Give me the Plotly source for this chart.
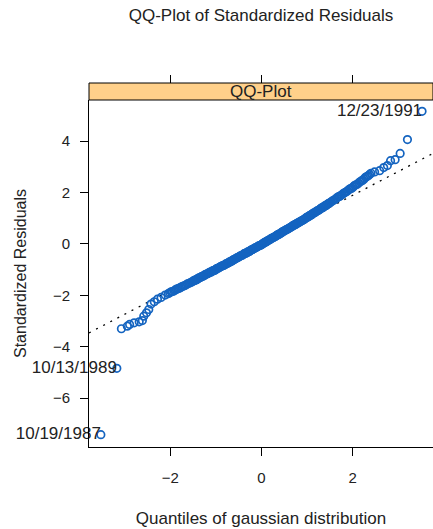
import plotly.graph_objects as go

# ---- data (sorted residuals vs gaussian quantiles) ----
quantiles = [
    -3.52, -3.17, -3.07, -2.94, -2.89, -2.79, -2.68, -2.61, -2.58, -2.52, -2.47, -2.42, -2.35, -2.28, -2.20, -2.11,
    -2.04, -1.98, -1.92, -1.86, -1.80, -1.74, -1.68, -1.62, -1.56, -1.50,
    -1.46, -1.42, -1.38, -1.34, -1.30, -1.26, -1.22, -1.18, -1.14, -1.10, -1.06, -1.02, -0.98, -0.94, -0.90,
    -0.86, -0.82, -0.78, -0.74, -0.70, -0.66, -0.62, -0.58, -0.54, -0.50, -0.46, -0.42, -0.38, -0.34, -0.30,
    -0.26, -0.22, -0.18, -0.14, -0.10, -0.06, -0.02,
    0.02, 0.06, 0.10, 0.14, 0.18, 0.22, 0.26, 0.30, 0.34, 0.38, 0.42, 0.46, 0.50, 0.54, 0.58, 0.62, 0.66,
    0.70, 0.74, 0.78, 0.82, 0.86, 0.90,
    0.94, 0.98, 1.02, 1.06, 1.10, 1.14, 1.18, 1.22, 1.26, 1.30, 1.34, 1.38, 1.42, 1.46, 1.50,
    1.56, 1.62, 1.68, 1.74, 1.80, 1.86, 1.92, 1.98, 2.04, 2.10, 2.16, 2.22, 2.28, 2.34, 2.40,
    2.48, 2.59, 2.68, 2.76, 2.83, 2.93, 3.04, 3.20, 3.52,
    # in-between points of the dense band
    -2.01, -1.95, -1.89, -1.83, -1.77, -1.71, -1.65, -1.59, -1.53,
    -1.48, -1.44, -1.40, -1.36, -1.32, -1.28, -1.24, -1.20, -1.16, -1.12, -1.08, -1.04, -1.00, -0.96, -0.92,
    -0.88, -0.84, -0.80, -0.76, -0.72, -0.68, -0.64, -0.60, -0.56, -0.52, -0.48, -0.44, -0.40, -0.36, -0.32,
    -0.28, -0.24, -0.20, -0.16, -0.12, -0.08, -0.04,
    0.00, 0.04, 0.08, 0.12, 0.16, 0.20, 0.24, 0.28, 0.32, 0.36, 0.40, 0.44, 0.48, 0.52, 0.56, 0.60, 0.64,
    0.68, 0.72, 0.76, 0.80, 0.84, 0.88,
    0.92, 0.96, 1.00, 1.04, 1.08, 1.12, 1.16, 1.20, 1.24, 1.28, 1.32, 1.36, 1.40, 1.44, 1.48,
    1.53, 1.59, 1.65, 1.71, 1.77, 1.83, 1.89, 1.95, 2.01, 2.07, 2.13, 2.19, 2.25, 2.31, 2.37,
]
residuals = [
    -7.42, -4.84, -3.30, -3.20, -3.13, -3.07, -3.03, -2.98, -2.81, -2.68, -2.55, -2.34, -2.25, -2.15, -2.08, -1.99,
    -1.93, -1.86, -1.83, -1.76, -1.72, -1.66, -1.62, -1.55, -1.51, -1.45,
    -1.41, -1.39, -1.33, -1.31, -1.26, -1.24, -1.18, -1.16, -1.11, -1.09, -1.04, -1.02, -0.96, -0.94, -0.89,
    -0.85, -0.83, -0.77, -0.75, -0.70, -0.67, -0.62, -0.59, -0.54, -0.51, -0.46, -0.44, -0.38, -0.36, -0.31,
    -0.28, -0.23, -0.20, -0.15, -0.12, -0.07, -0.05,
    0.00, 0.05, 0.08, 0.13, 0.16, 0.22, 0.25, 0.29, 0.34, 0.37, 0.42, 0.47, 0.50, 0.55, 0.58, 0.63, 0.67,
    0.72, 0.75, 0.80, 0.83, 0.88, 0.92,
    0.96, 1.02, 1.05, 1.11, 1.14, 1.20, 1.23, 1.29, 1.32, 1.38, 1.41, 1.47, 1.50, 1.56, 1.60,
    1.68, 1.74, 1.83, 1.88, 1.97, 2.03, 2.12, 2.17, 2.27, 2.32, 2.42, 2.48, 2.59, 2.65, 2.75,
    2.80, 2.85, 2.97, 3.05, 3.24, 3.28, 3.52, 4.06, 5.16,
    # in-between points of the dense band
    -1.90, -1.85, -1.79, -1.74, -1.69, -1.64, -1.59, -1.53, -1.48,
    -1.43, -1.40, -1.35, -1.32, -1.28, -1.25, -1.20, -1.17, -1.13, -1.10, -1.06, -1.03, -0.99, -0.95, -0.91,
    -0.87, -0.84, -0.81, -0.76, -0.73, -0.69, -0.65, -0.61, -0.57, -0.53, -0.49, -0.45, -0.41, -0.37, -0.34,
    -0.30, -0.26, -0.22, -0.18, -0.14, -0.10, -0.06,
    -0.03, 0.02, 0.07, 0.10, 0.15, 0.19, 0.23, 0.27, 0.31, 0.36, 0.40, 0.44, 0.49, 0.53, 0.57, 0.61, 0.65,
    0.70, 0.74, 0.78, 0.82, 0.86, 0.90,
    0.94, 0.99, 1.04, 1.08, 1.12, 1.17, 1.21, 1.26, 1.30, 1.35, 1.40, 1.44, 1.49, 1.53, 1.58,
    1.64, 1.71, 1.79, 1.85, 1.92, 2.00, 2.07, 2.15, 2.22, 2.30, 2.37, 2.45, 2.53, 2.62, 2.70,
]
outlier_labels = ["10/19/1987", "10/13/1989", "12/23/1991"]
outlier_x = [-3.52, -3.17, 3.52]
outlier_y = [-7.42, -4.84, 5.16]
ref_intercept = 0.04
ref_slope = 0.926

x_range = [-3.78, 3.76]
y_range = [-7.9, 5.6]
x_ticks = [-2, 0, 2]
y_ticks = [-6, -4, -2, 0, 2, 4]

FONT = "Liberation Sans, Arial, sans-serif"
BLUE = "#1464c0"
TXT = "#222222"

pairs = sorted(zip(quantiles, residuals))
qx = [p[0] for p in pairs]
qy = [p[1] for p in pairs]

fig = go.Figure()

fig.add_trace(go.Scatter(
    x=[x_range[0], x_range[1]],
    y=[ref_intercept + ref_slope * x_range[0], ref_intercept + ref_slope * x_range[1]],
    mode="lines",
    line=dict(color="black", width=1.3, dash="2px,6px"),
    hoverinfo="skip", showlegend=False,
))

fig.add_trace(go.Scatter(
    x=qx, y=qy, mode="markers",
    marker=dict(symbol="circle-open", size=7.5, color=BLUE, line=dict(width=1.7, color=BLUE)),
    showlegend=False,
))

fig.add_trace(go.Scatter(
    x=outlier_x, y=outlier_y, mode="text", text=outlier_labels,
    textposition="middle left",
    textfont=dict(family=FONT, size=17, color=TXT),
    cliponaxis=False, showlegend=False, hoverinfo="skip",
))

top_dom = (447 - 100) / (447 - 83)

fig.update_layout(
    width=433, height=529,
    margin=dict(l=89, r=0, t=83, b=82, autoexpand=False),
    paper_bgcolor="white", plot_bgcolor="white",
    font=dict(family=FONT, size=14, color=TXT),
    title=dict(text="QQ-Plot of Standardized Residuals", x=(89 + 433) / 2 / 433, xanchor="center",
               y=1 - 15 / 529, yanchor="middle", font=dict(size=17)),
    xaxis=dict(range=x_range, tickvals=x_ticks, ticks="outside", ticklen=8, tickcolor="black",
               showline=True, linecolor="black", linewidth=1, showgrid=False, zeroline=False,
               title=dict(text="Quantiles of gaussian distribution", standoff=27, font=dict(size=17)),
               ticklabelstandoff=9, anchor="y", automargin=False, tickfont=dict(size=15)),
    xaxis2=dict(range=x_range, tickvals=x_ticks, ticks="outside", ticklen=8, tickcolor="black",
                showticklabels=False, showline=False, showgrid=False, zeroline=False,
                overlaying="x", side="top", anchor="free", position=1, automargin=False),
    yaxis=dict(range=y_range, tickvals=y_ticks, ticks="outside", ticklen=8, tickcolor="black",
               showline=True, linecolor="black", linewidth=1, showgrid=False, zeroline=False,
               domain=[0, top_dom], ticklabelstandoff=7, automargin=False, tickfont=dict(size=15),
               title=dict(text="Standardized Residuals", standoff=22, font=dict(size=16))),
    shapes=[
        dict(type="rect", xref="paper", yref="paper", x0=0, x1=1.0, y0=top_dom, y1=1,
             fillcolor="#ffd08a", line=dict(color="black", width=1)),
    ],
    annotations=[
        dict(text="QQ-Plot", xref="paper", yref="paper", x=0.5, y=(top_dom + 1) / 2,
             showarrow=False, xanchor="center", yanchor="middle", font=dict(size=17, color=TXT)),
    ],
)

# invisible trace on the top axis so it gets drawn
fig.add_trace(go.Scatter(x=[0], y=[0], xaxis="x2", mode="markers", marker=dict(opacity=0),
                         showlegend=False, hoverinfo="skip"))

fig.write_html("out.html", config={"displayModeBar": False},
               post_script="document.body.style.margin='0';document.body.style.padding='0';")
